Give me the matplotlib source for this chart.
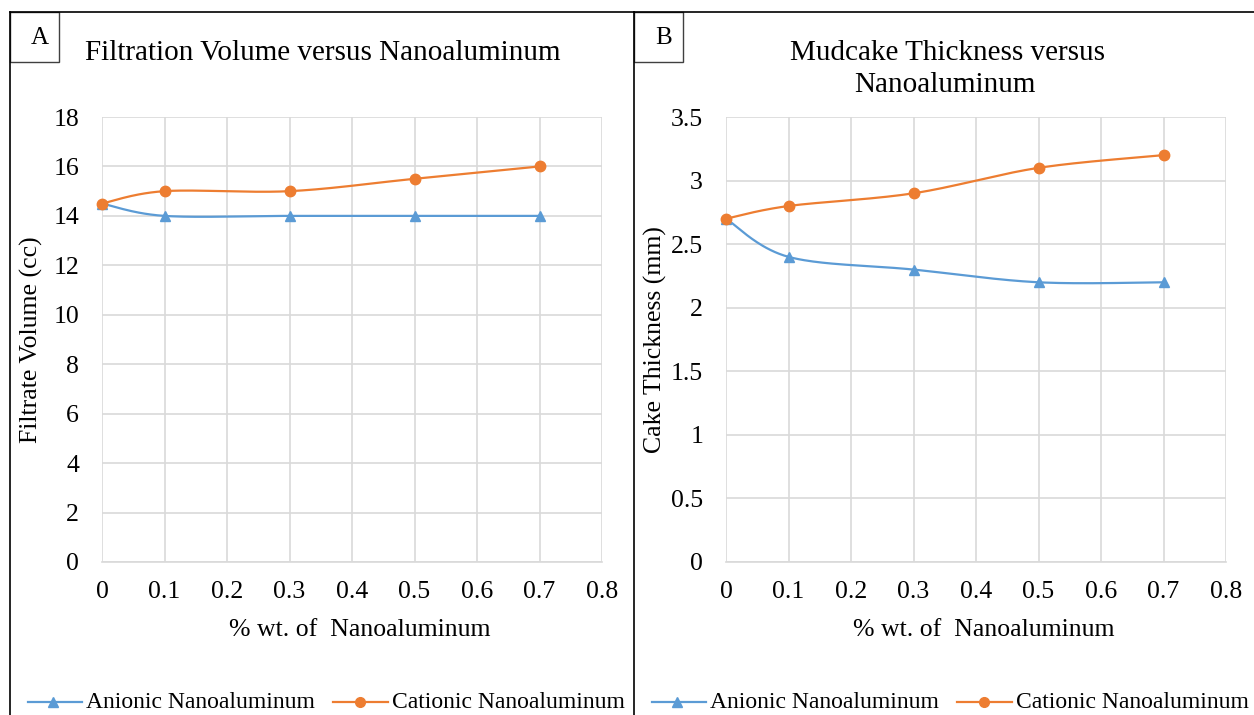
import numpy as np
import matplotlib
matplotlib.use("Agg")
import matplotlib.pyplot as plt
from matplotlib.lines import Line2D
from matplotlib.patches import Rectangle

plt.rcParams['font.family'] = ['Liberation Serif', 'DejaVu Serif']

# data
wt = [0, 0.1, 0.3, 0.5, 0.7]
filt_anionic = [14.5, 14, 14, 14, 14]
filt_cationic = [14.5, 15, 15, 15.5, 16]
cake_anionic = [2.7, 2.4, 2.3, 2.2, 2.2]
cake_cationic = [2.7, 2.8, 2.9, 3.1, 3.2]

xticks = [0, 0.1, 0.2, 0.3, 0.4, 0.5, 0.6, 0.7, 0.8]
filt_yticks = [0, 2, 4, 6, 8, 10, 12, 14, 16, 18]
cake_yticks = [0, 0.5, 1, 1.5, 2, 2.5, 3, 3.5]

BLUE = '#5B9BD5'
ORANGE = '#ED7D31'
GRID = '#D9D9D9'

W, H = 1254, 715


def smooth(x, y, n=40):
    # excel-like bezier smoothing through the points
    x = np.asarray(x, float)
    y = np.asarray(y, float)
    px = np.concatenate([[x[0]], x, [x[-1]]])
    py = np.concatenate([[y[0]], y, [y[-1]]])
    xs, ys = [], []
    t = np.linspace(0, 1, n)
    for i in range(1, len(px) - 2):
        p0 = np.array([px[i], py[i]])
        p3 = np.array([px[i + 1], py[i + 1]])
        c1 = p0 + (np.array([px[i + 1], py[i + 1]]) - np.array([px[i - 1], py[i - 1]])) / 6
        c2 = p3 - (np.array([px[i + 2], py[i + 2]]) - np.array([px[i], py[i]])) / 6
        b = ((1 - t) ** 3)[:, None] * p0 + (3 * (1 - t) ** 2 * t)[:, None] * c1 \
            + (3 * (1 - t) * t ** 2)[:, None] * c2 + (t ** 3)[:, None] * p3
        xs.extend(b[:, 0])
        ys.extend(b[:, 1])
    return xs, ys


def fx(px):
    return px / W


def fy(py):
    return 1 - py / H


def panel(fig, left, right, letter, title_lines, ylabel, ya, yc, yticks, ymax):
    # border of the panel
    fig.add_artist(Line2D([fx(left), fx(left)], [fy(12), 0], color='black', lw=1.2))
    fig.add_artist(Line2D([fx(left), fx(right)], [fy(12), fy(12)], color='black', lw=1.2))
    fig.add_artist(Rectangle((fx(left), fy(62)), fx(49), 50 / H, fill=False,
                             edgecolor='#404040', lw=1.0, transform=fig.transFigure))
    fig.text(fx(left + 30), fy(38), letter, ha='center', va='center', fontsize=18)

    ax_left = left + 92
    ax = fig.add_axes([fx(ax_left), fy(562), fx(500), 445 / H])
    ax.plot(*smooth(wt, ya), color=BLUE, lw=1.6, zorder=3)
    ax.plot(wt, ya, ls='none', marker='^', ms=7.5, color=BLUE, zorder=4, clip_on=False)
    ax.plot(*smooth(wt, yc), color=ORANGE, lw=1.6, zorder=3)
    ax.plot(wt, yc, ls='none', marker='o', ms=7.5, color=ORANGE, zorder=4, clip_on=False)

    ax.set_xlim(0, 0.8)
    ax.set_ylim(0, ymax)
    ax.set_xticks(xticks)
    ax.set_xticklabels([f'{v:g}' for v in xticks])
    ax.set_yticks(yticks)
    ax.set_yticklabels([f'{v:g}' for v in yticks])
    ax.grid(True, color=GRID, lw=1.2)
    ax.set_axisbelow(True)
    for s in ['top', 'right', 'left']:
        ax.spines[s].set_visible(False)
    ax.spines['bottom'].set_color(GRID)
    ax.spines['bottom'].set_linewidth(1.2)
    ax.tick_params(length=0, labelsize=18.5)
    ax.tick_params(axis='x', pad=14)
    ax.tick_params(axis='y', pad=16.5)

    cx = ax_left + 250
    fig.text(fx(cx + 8), fy(636), '% wt. of  Nanoaluminum', ha='center',
             va='baseline', fontsize=18.5)
    fig.text(fx(left + 21), fy(340), ylabel, ha='center', va='center',
             rotation=90, fontsize=18.5)

    for i, line in enumerate(title_lines):
        fig.text(fx(title_lines[line][0]), fy(title_lines[line][1]), line,
                 ha='center', va='baseline', fontsize=21)

    # legend at the bottom of the panel
    ly = fy(702)
    fig.add_artist(Line2D([fx(left + 18), fx(left + 72)], [ly, ly], color=BLUE, lw=1.6))
    fig.add_artist(Line2D([fx(left + 43)], [ly], marker='^', ms=7, color=BLUE))
    fig.text(fx(left + 76), ly, 'Anionic Nanoaluminum', ha='left', va='center', fontsize=17)
    fig.add_artist(Line2D([fx(left + 323), fx(left + 378)], [ly, ly], color=ORANGE, lw=1.6))
    fig.add_artist(Line2D([fx(left + 350)], [ly], marker='o', ms=7, color=ORANGE))
    fig.text(fx(left + 382), ly, 'Cationic Nanoaluminum', ha='left', va='center', fontsize=17)
    return ax


fig = plt.figure(figsize=(W / 100, H / 100), dpi=100)

panel(fig, 10, 634, 'A', {'Filtration Volume versus Nanoaluminum': (323, 60)},
      'Filtrate Volume (cc)', filt_anionic, filt_cationic, filt_yticks, 18)
panel(fig, 634, 1254, 'B', {'Mudcake Thickness versus': (947, 60), 'Nanoaluminum': (945, 92)},
      'Cake Thickness (mm)', cake_anionic, cake_cationic, cake_yticks, 3.5)

fig.savefig('out.png', dpi=100)
